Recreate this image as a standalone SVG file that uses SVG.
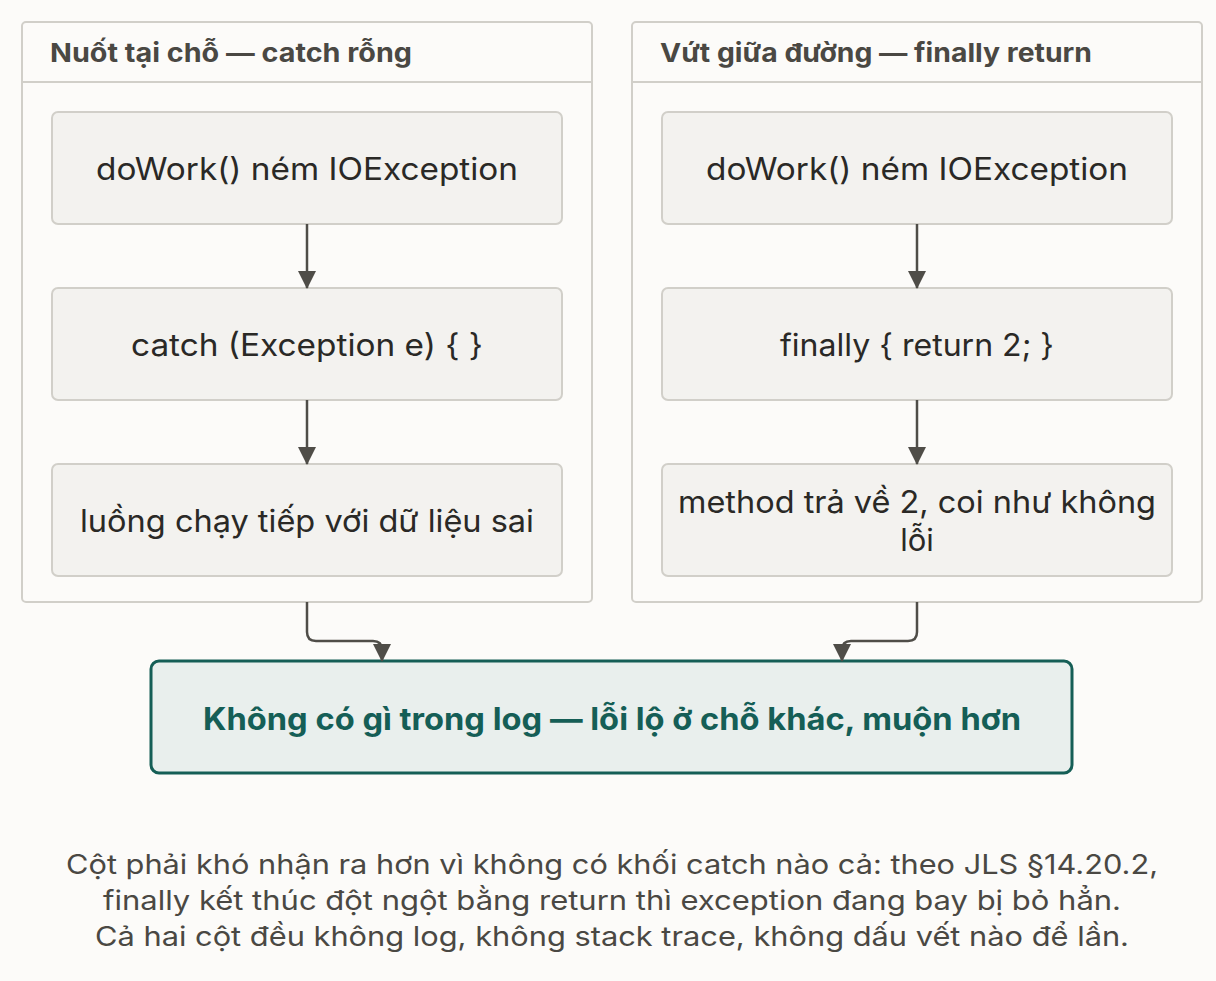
<svg xmlns="http://www.w3.org/2000/svg" width="1216" height="981" viewBox="0 0 1216 981">
<style>
.bg{fill:#fcfbf9}
.grp{fill:#fcfbf9;stroke:#d1cfc9;stroke-width:2}
.sep{stroke:#d1cfc9;stroke-width:2}
.gt{font-family:Inter,"Noto Sans",sans-serif;font-weight:700;font-size:26px;fill:#4a4843}
.box{fill:#f3f2ef;stroke:#d1cfc9;stroke-width:2}
.bt{font-family:Inter,"Noto Sans",sans-serif;font-size:31px;fill:#2a2926;text-anchor:middle}
.res{fill:#e9efed;stroke:#155e56;stroke-width:3}
.rt{font-family:Inter,"Noto Sans",sans-serif;font-weight:700;font-size:31px;fill:#155e56;text-anchor:middle}
.cap{font-family:Inter,"Noto Sans",sans-serif;font-size:27px;fill:#4a4843;text-anchor:middle}
.ln{fill:none;stroke:#4f4d48;stroke-width:2.5}
</style>
<defs>
<marker id="ah2" markerWidth="18" markerHeight="18" refX="17" refY="9" orient="auto" markerUnits="userSpaceOnUse" viewBox="0 0 18 18"><path d="M0,0 L18,9 L0,18 z" fill="#4f4d48"/></marker></defs>
<rect class="bg" width="1216" height="981"/>
<g id="left-group">
<rect class="grp" x="22" y="22" width="570" height="580" rx="4"/>
<line class="sep" x1="22" y1="82" x2="592" y2="82"/>
<text class="gt" x="50" y="62" textLength="362" lengthAdjust="spacingAndGlyphs">Nuốt tại chỗ — catch rỗng</text>
</g>
<g id="right-group">
<rect class="grp" x="632" y="22" width="570" height="580" rx="4"/>
<line class="sep" x1="632" y1="82" x2="1202" y2="82"/>
<text class="gt" x="660" y="62" textLength="432" lengthAdjust="spacingAndGlyphs">Vứt giữa đường — finally return</text>
</g>
<g id="l1"><rect class="box" x="52" y="112" width="510" height="112" rx="6"/><text class="bt" x="307" y="180" textLength="422" lengthAdjust="spacingAndGlyphs">doWork() ném IOException</text></g>
<g id="l2"><rect class="box" x="52" y="288" width="510" height="112" rx="6"/><text class="bt" x="307" y="356" textLength="352" lengthAdjust="spacingAndGlyphs">catch (Exception e) { }</text></g>
<g id="l3"><rect class="box" x="52" y="464" width="510" height="112" rx="6"/><text class="bt" x="307" y="532" textLength="454" lengthAdjust="spacingAndGlyphs">luồng chạy tiếp với dữ liệu sai</text></g>
<g id="r1"><rect class="box" x="662" y="112" width="510" height="112" rx="6"/><text class="bt" x="917" y="180" textLength="422" lengthAdjust="spacingAndGlyphs">doWork() ném IOException</text></g>
<g id="r2"><rect class="box" x="662" y="288" width="510" height="112" rx="6"/><text class="bt" x="917" y="356" textLength="274" lengthAdjust="spacingAndGlyphs">finally { return 2; }</text></g>
<g id="r3"><rect class="box" x="662" y="464" width="510" height="112" rx="6"/><text class="bt" x="917" y="513" textLength="478" lengthAdjust="spacingAndGlyphs">method trả về 2, coi như không</text><text class="bt" x="917" y="551">lỗi</text></g>
<g id="result"><rect class="res" x="151" y="661" width="921" height="112" rx="8"/><text class="rt" x="612" y="730" textLength="818" lengthAdjust="spacingAndGlyphs">Không có gì trong log — lỗi lộ ở chỗ khác, muộn hơn</text></g>
<g id="connectors">
<path class="ln" d="M307,224 V288" marker-end="url(#ah2)"/>
<path class="ln" d="M307,400 V464" marker-end="url(#ah2)"/>
<path class="ln" d="M917,224 V288" marker-end="url(#ah2)"/>
<path class="ln" d="M917,400 V464" marker-end="url(#ah2)"/>
<path class="ln" d="M307,602 V632 Q307,641 316,641 H373 Q382,641 382,650 V661" marker-end="url(#ah2)"/>
<path class="ln" d="M917,602 V632 Q917,641 908,641 H851 Q842,641 842,650 V661" marker-end="url(#ah2)"/>
</g>
<g id="caption">
<text class="cap" x="612" y="874" textLength="1092" lengthAdjust="spacingAndGlyphs">Cột phải khó nhận ra hơn vì không có khối catch nào cả: theo JLS §14.20.2,</text>
<text class="cap" x="612" y="910" textLength="1018" lengthAdjust="spacingAndGlyphs">finally kết thúc đột ngột bằng return thì exception đang bay bị bỏ hẳn.</text>
<text class="cap" x="612" y="946" textLength="1034" lengthAdjust="spacingAndGlyphs">Cả hai cột đều không log, không stack trace, không dấu vết nào để lần.</text>
</g>
</svg>
